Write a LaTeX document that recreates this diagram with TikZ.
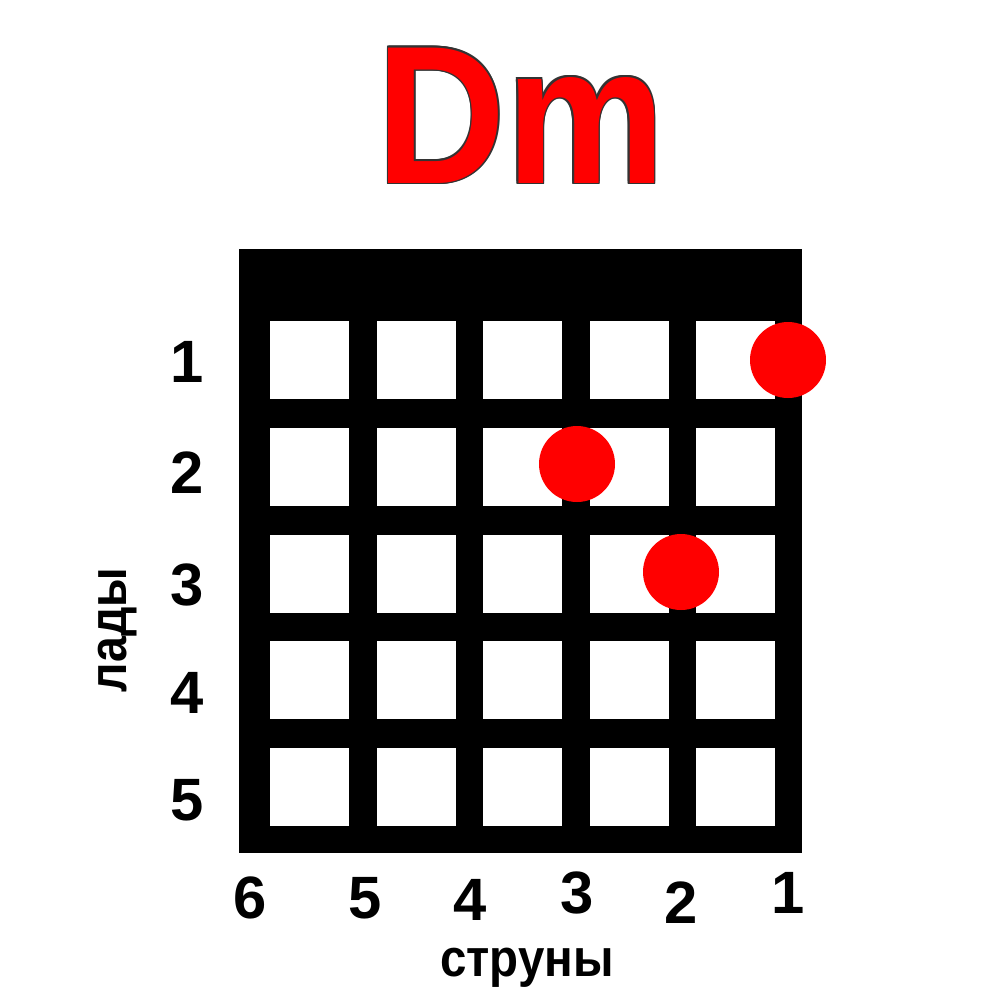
\documentclass[tikz,border=0pt]{standalone}
\usepackage{fontspec}
\setmainfont{Liberation Sans}
\usetikzlibrary{positioning}

\tikzset{
  chordname/.style={font=\fontsize{56}{56}\selectfont\bfseries, inner sep=0pt, anchor=base},
  fretnum/.style={font=\fontsize{17}{17}\selectfont\bfseries, inner sep=0pt},
  axislabel/.style={font=\fontsize{15}{15}\selectfont\bfseries, inner sep=0pt},
  finger/.style={circle, fill=red, minimum size=7.6mm, inner sep=0pt},
}

\begin{document}
\begin{tikzpicture}[x = 0.1mm, y = -0.1mm]

    \useasboundingbox (0,0) rectangle (1000,1000);

    % Nome accordo (contorno scuro + riempimento rosso)
    \foreach \a in {0,45,...,315}
        \node[chordname, black!80, shift={(\a:0.45pt)}] at (521,183) {\scalebox{0.91}[1]{Dm}};
    \node[chordname, red] (title) at (521,183) {\scalebox{0.91}[1]{Dm}};

    % Tastiera: blocco nero con caselle bianche
    \fill[black] (239,249) rectangle (802,853);
    \foreach \i in {0,...,4}
        \foreach \j in {0,...,4}
            \fill[white] ({270+106.5*\i},{321+106.75*\j}) rectangle ++(79,78);

    % Numeri dei tasti
    \foreach \n/\y in {1/362, 2/473, 3/585, 4/693, 5/800}
        \node[fretnum] (fret\n) at (187,\y) {\n};

    % Numeri delle corde
    \foreach \n/\x/\y in {6/250/898, 5/365/898, 4/470/900, 3/577/893, 2/681/903, 1/788/893}
        \node[fretnum] (str\n) at (\x,\y) {\n};

    % Etichette
    \node[axislabel, rotate=90] (lady) at (118,630) {\scalebox{0.88}[1]{лады}};
    \node[axislabel] (struny) at (527,968) {\scalebox{0.9}[1]{струны}};

    % Dita
    \node[finger] (dot1) at (788,360) {};
    \node[finger] (dot2) at (577,464) {};
    \node[finger] (dot3) at (681,572) {};

\end{tikzpicture}
\end{document}
